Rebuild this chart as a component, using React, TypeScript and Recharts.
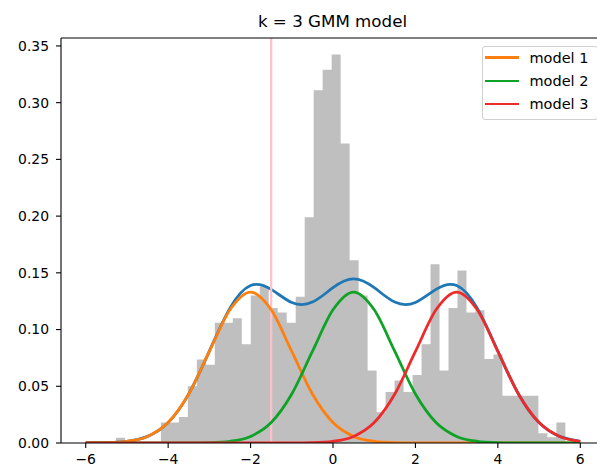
import { ComposedChart, Area, Line, XAxis, YAxis, ReferenceLine } from 'recharts';

// histogram (density), 50 equal bins
const BIN_START = -5.267;
const BIN_WIDTH = 0.2181;
const BIN_HEIGHTS = [
  0.0046, 0, 0, 0, 0, 0.018, 0.018, 0.023, 0.05, 0.0735,
  0.069, 0.106, 0.106, 0.11, 0.087, 0.13, 0.138, 0.119, 0.115, 0.106,
  0.129, 0.199, 0.311, 0.329, 0.3425, 0.264, 0.161, 0.13, 0.064, 0.027,
  0.045, 0.055, 0.045, 0.06, 0.087, 0.1575, 0.064, 0.119, 0.152, 0.115,
  0.117, 0.074, 0.078, 0.0416, 0.0416, 0.0416, 0.0416, 0.0086, 0.005, 0.018,
];

// fitted curves
const CURVE_X = [
  -6, -5.5, -5, -4.5, -4, -3.5, -3, -2.5, -2, -1.5, -1, -0.5, 0,
  0.5, 1, 1.5, 2, 2.5, 3, 3.5, 4, 4.5, 5, 5.5, 6,
];
const MIXTURE = [
  0, 0.0003, 0.0015, 0.0058, 0.018, 0.0433, 0.081, 0.1189, 0.1388, 0.1354, 0.1239, 0.1242, 0.1369,
  0.1446, 0.1369, 0.1242, 0.1239, 0.1354, 0.1388, 0.1189, 0.081, 0.0432, 0.018, 0.0058, 0.0015,
];
const MODEL_1 = [
  0, 0.0003, 0.0015, 0.0058, 0.018, 0.0432, 0.0807, 0.1174, 0.133, 0.1174, 0.0807, 0.0432, 0.018,
  0.0058, 0.0015, 0.0003, 0, 0, 0, 0, 0, 0, 0, 0, 0,
];
const MODEL_2 = [
  0, 0, 0, 0, 0, 0, 0.0003, 0.0015, 0.0058, 0.018, 0.0432, 0.0807, 0.1174,
  0.133, 0.1174, 0.0807, 0.0432, 0.018, 0.0058, 0.0015, 0.0003, 0, 0, 0, 0,
];
const MODEL_3 = [
  0, 0, 0, 0, 0, 0, 0, 0, 0, 0, 0, 0.0003, 0.0015,
  0.0058, 0.018, 0.0432, 0.0807, 0.1174, 0.133, 0.1174, 0.0807, 0.0432, 0.018, 0.0058, 0.0015,
];

const SPLIT_X = -1.5;
const X_TICKS = [-6, -4, -2, 0, 2, 4, 6];
const Y_TICKS = [0, 0.05, 0.1, 0.15, 0.2, 0.25, 0.3, 0.35];
const X_DOMAIN: [number, number] = [-6.6, 6.6];
const Y_DOMAIN: [number, number] = [0, 0.357];

const MODELS = [
  { name: 'model 1', color: '#ff7f0e', values: MODEL_1 },
  { name: 'model 2', color: '#0ea226', values: MODEL_2 },
  { name: 'model 3', color: '#ee2a2a', values: MODEL_3 },
];

const FONT = '"DejaVu Sans", sans-serif';
const tickStyle = { fontSize: 13.9, fill: '#000', fontFamily: FONT };

export default function App() {
  const hist = BIN_HEIGHTS.map((h, i) => ({ x: BIN_START + i * BIN_WIDTH, y: h }));
  hist.push({ x: BIN_START + BIN_HEIGHTS.length * BIN_WIDTH, y: 0 });

  const curve = (vals: number[]) => CURVE_X.map((x, i) => ({ x, y: vals[i] }));

  return (
    <div
      style={{
        position: 'absolute',
        left: 0,
        top: 0,
        width: 597,
        height: 469,
        overflow: 'hidden',
        background: '#fff',
        fontFamily: FONT,
      }}
    >
      <div
        style={{
          position: 'absolute',
          left: 0,
          width: 665,
          top: 12.9,
          textAlign: 'center',
          fontSize: 16.7,
          lineHeight: 1,
          color: '#000',
        }}
      >
        k = 3 GMM model
      </div>

      <ComposedChart width={605} height={469} margin={{ top: 38, right: 0, bottom: 0, left: 0 }}>
        <XAxis
          dataKey="x"
          type="number"
          domain={X_DOMAIN}
          ticks={X_TICKS}
          allowDataOverflow
          height={26}
          tickSize={5}
          tickMargin={6}
          tick={tickStyle}
          tickFormatter={(v: number) => String(v).replace('-', '\u2212')}
          axisLine={{ stroke: '#000', strokeWidth: 1.1 }}
          tickLine={{ stroke: '#000', strokeWidth: 1.1 }}
        />
        <YAxis
          type="number"
          domain={Y_DOMAIN}
          ticks={Y_TICKS}
          allowDataOverflow
          width={61}
          tickSize={5}
          tickMargin={7}
          tick={tickStyle}
          tickFormatter={(v: number) => v.toFixed(2)}
          axisLine={{ stroke: '#000', strokeWidth: 1.1 }}
          tickLine={{ stroke: '#000', strokeWidth: 1.1 }}
        />
        <Area
          data={hist}
          dataKey="y"
          type="stepAfter"
          stroke="none"
          fill="#bfbfbf"
          fillOpacity={1}
          isAnimationActive={false}
        />
        <Line
          data={curve(MIXTURE)}
          dataKey="y"
          type="natural"
          stroke="#1f77b4"
          strokeWidth={2.8}
          dot={false}
          activeDot={false}
          isAnimationActive={false}
        />
        <ReferenceLine x={SPLIT_X} stroke="#ffc0cb" strokeWidth={2.2} />
        {MODELS.map((m) => (
          <Line
            key={m.name}
            data={curve(m.values)}
            dataKey="y"
            type="monotone"
            stroke={m.color}
            strokeWidth={2.8}
            dot={false}
            activeDot={false}
            isAnimationActive={false}
          />
        ))}
        <ReferenceLine y={Y_DOMAIN[1]} stroke="#000" strokeWidth={1.1} />
        <ReferenceLine x={X_DOMAIN[1]} stroke="#000" strokeWidth={1.1} />
      </ComposedChart>

      <div
        style={{
          position: 'absolute',
          left: 481.5,
          top: 46,
          width: 114,
          height: 72,
          border: '1px solid #d0d0d0',
          borderRadius: 3,
          background: 'rgba(255,255,255,0.8)',
        }}
      />
      {MODELS.map((m, i) => (
        <div key={m.name}>
          <div
            style={{
              position: 'absolute',
              left: 485,
              top: 57.7 + i * 23.2 - 1.4,
              width: 34,
              height: 2.8,
              background: m.color,
            }}
          />
          <div
            style={{
              position: 'absolute',
              left: 529.5,
              top: 51 + i * 23.2,
              fontSize: 14.5,
              lineHeight: 1,
              color: '#000',
              whiteSpace: 'nowrap',
            }}
          >
            {m.name}
          </div>
        </div>
      ))}
    </div>
  );
}
